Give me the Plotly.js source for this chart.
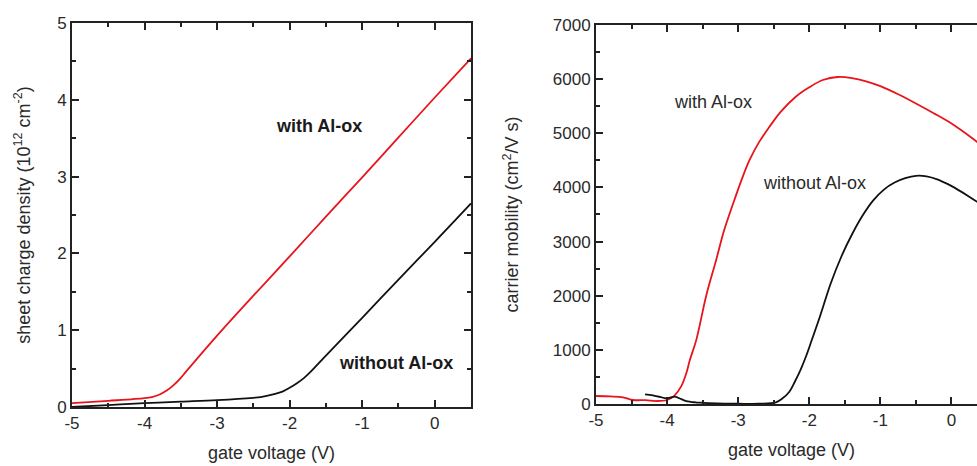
<!DOCTYPE html>
<html>
<head>
<meta charset="utf-8">
<script src="https://cdn.plot.ly/plotly-3.0.1.min.js"></script>
<style>
html,body{margin:0;padding:0;overflow:hidden;background:#fff;}
#chart{width:1000px;height:466px;}
</style>
</head>
<body>
<div id="chart"></div>
<script>
// Left panel: sheet charge density (10^12 cm^-2) vs gate voltage (V)
const chargeWithX = [-5, -4.5, -4, -3.9, -3.8, -3.7, -3.6, -3.5, -3.42, -3, -2.5, -2, -1.5, -1, -0.5, 0, 0.5];
const chargeWithY = [0.05, 0.08, 0.115, 0.13, 0.16, 0.21, 0.285, 0.38, 0.47, 0.93, 1.45, 1.96, 2.48, 2.99, 3.51, 4.03, 4.54];
const chargeWithoutX = [-5, -4.5, -4, -3.5, -3, -2.5, -2.4, -2.2, -2.1, -2.0, -1.9, -1.8, -1.69, -1.5, -1, -0.5, 0, 0.5];
const chargeWithoutY = [0.0, 0.025, 0.05, 0.07, 0.09, 0.12, 0.13, 0.17, 0.20, 0.25, 0.31, 0.38, 0.48, 0.67, 1.16, 1.66, 2.15, 2.65];

// Right panel: carrier mobility (cm^2/V s) vs gate voltage (V)
const mobWithX = [-5, -4.8, -4.62, -4.48, -4.3, -4.15, -4.0, -3.9, -3.8, -3.73, -3.68, -3.59, -3.45, -3.31, -3.2, -3.07, -2.95, -2.84, -2.7, -2.56, -2.4, -2.19, -2.0, -1.81, -1.6, -1.4, -1.2, -1.0, -0.75, -0.5, -0.25, 0, 0.25, 0.5];
const mobWithY = [148, 140, 124, 74, 70, 55, 74, 150, 330, 567, 812, 1180, 2000, 2660, 3200, 3707, 4150, 4507, 4850, 5120, 5400, 5676, 5850, 5984, 6040, 6020, 5960, 5870, 5720, 5550, 5370, 5180, 4950, 4700];
const mobWithoutX = [-4.31, -4.2, -4.1, -4.01, -3.95, -3.89, -3.8, -3.73, -3.6, -3.54, -3.3, -3.0, -2.7, -2.47, -2.38, -2.28, -2.2, -2.12, -2.04, -1.96, -1.88, -1.8, -1.7, -1.55, -1.4, -1.25, -1.1, -0.95, -0.8, -0.65, -0.5, -0.35, -0.2, -0.05, 0.1, 0.25, 0.4, 0.5];
const mobWithoutY = [179, 160, 130, 105, 120, 135, 90, 55, 30, 24, 10, 5, 5, 30, 100, 227, 420, 640, 900, 1200, 1500, 1820, 2220, 2720, 3130, 3480, 3760, 3960, 4090, 4170, 4215, 4205, 4150, 4060, 3950, 3830, 3700, 3610];

const xTickVals = [-5, -4, -3, -2, -1, 0];
const xTickText = ['-5', '-4', '-3', '-2', '-1', '0'];
const chargeTickVals = [0, 1, 2, 3, 4, 5];
const chargeTickText = ['0', '1', '2', '3', '4', '5'];
const mobTickVals = [0, 1000, 2000, 3000, 4000, 5000, 6000, 7000];
const mobTickText = ['0', '1000', '2000', '3000', '4000', '5000', '6000', '7000'];

const RED = '#e8141b';
const BLACK = '#111111';
const AX = '#222222';
const TXT = '#2a2a2a';
const FONT = 'Liberation Sans, Arial, sans-serif';

const traces = [
  {x: chargeWithX, y: chargeWithY, xaxis: 'x', yaxis: 'y', mode: 'lines', line: {color: RED, width: 1.8, shape: 'spline', smoothing: 1}, name: 'with Al-ox'},
  {x: chargeWithoutX, y: chargeWithoutY, xaxis: 'x', yaxis: 'y', mode: 'lines', line: {color: BLACK, width: 1.8, shape: 'spline', smoothing: 1}, name: 'without Al-ox'},
  {x: mobWithX, y: mobWithY, xaxis: 'x2', yaxis: 'y2', mode: 'lines', line: {color: RED, width: 1.8, shape: 'spline', smoothing: 1}, name: 'with Al-ox'},
  {x: mobWithoutX, y: mobWithoutY, xaxis: 'x2', yaxis: 'y2', mode: 'lines', line: {color: BLACK, width: 1.8, shape: 'spline', smoothing: 1}, name: 'without Al-ox'}
];

function minorDef(step) {
  return {tickmode: 'linear', tick0: 0, dtick: step, ticks: 'inside', ticklen: 4, tickwidth: 2, tickcolor: AX, showgrid: false};
}

function xaxisDef(domain, anchor) {
  return {
    domain: domain, anchor: anchor, range: [-5, 0.5],
    tickmode: 'array', tickvals: xTickVals, ticktext: xTickText,
    ticks: 'inside', ticklen: 7, tickwidth: 2, tickcolor: AX,
    minor: minorDef(0.5),
    showline: true, linecolor: AX, linewidth: 2, mirror: 'ticks',
    showgrid: false, zeroline: false, automargin: false,
    tickfont: {family: FONT, size: 17, color: TXT},
    title: {text: 'gate voltage (V)', font: {family: FONT, size: 18, color: TXT}, standoff: 14}
  };
}

const layout = {
  width: 1000, height: 466,
  margin: {l: 72, r: 13, t: 23, b: 59},
  paper_bgcolor: '#ffffff', plot_bgcolor: '#ffffff',
  showlegend: false,
  font: {family: FONT, color: TXT},
  xaxis: xaxisDef([0, 0.4361], 'y'),
  xaxis2: xaxisDef([0.5727, 1], 'y2'),
  yaxis: {
    domain: [0, 1], anchor: 'x', range: [0, 5],
    tickmode: 'array', tickvals: chargeTickVals, ticktext: chargeTickText,
    ticks: 'inside', ticklen: 7, tickwidth: 2, tickcolor: AX,
    minor: minorDef(0.5),
    showline: true, linecolor: AX, linewidth: 2, mirror: 'ticks',
    showgrid: false, zeroline: false, automargin: false,
    tickfont: {family: FONT, size: 17, color: TXT},
    title: {text: 'sheet charge density (10<sup>12</sup> cm<sup>-2</sup>)', font: {family: FONT, size: 18, color: TXT}, standoff: 22}
  },
  yaxis2: {
    domain: [0.0078, 0.9948], anchor: 'x2', range: [0, 7000],
    tickmode: 'array', tickvals: mobTickVals, ticktext: mobTickText,
    ticks: 'inside', ticklen: 7, tickwidth: 2, tickcolor: AX,
    minor: minorDef(500),
    showline: true, linecolor: AX, linewidth: 2, mirror: 'ticks',
    showgrid: false, zeroline: false, automargin: false,
    tickfont: {family: FONT, size: 17, color: TXT},
    title: {text: 'carrier mobility (cm<sup>2</sup>/V s)', font: {family: FONT, size: 18, color: TXT}, standoff: 29}
  },
  annotations: [
    {xref: 'x', yref: 'y', x: -1.59, y: 3.66, text: '<b>with Al-ox</b>', showarrow: false, font: {family: FONT, size: 18, color: '#1a1a1a'}},
    {xref: 'x', yref: 'y', x: -0.54, y: 0.57, text: '<b>without Al-ox</b>', showarrow: false, font: {family: FONT, size: 18, color: '#1a1a1a'}},
    {xref: 'x2', yref: 'y2', x: -3.35, y: 5578, text: 'with Al-ox', showarrow: false, font: {family: FONT, size: 18, color: TXT}},
    {xref: 'x2', yref: 'y2', x: -1.93, y: 4082, text: 'without Al-ox', showarrow: false, font: {family: FONT, size: 18, color: TXT}}
  ]
};

Plotly.newPlot('chart', traces, layout, {displayModeBar: false, staticPlot: true});
</script>
</body>
</html>
